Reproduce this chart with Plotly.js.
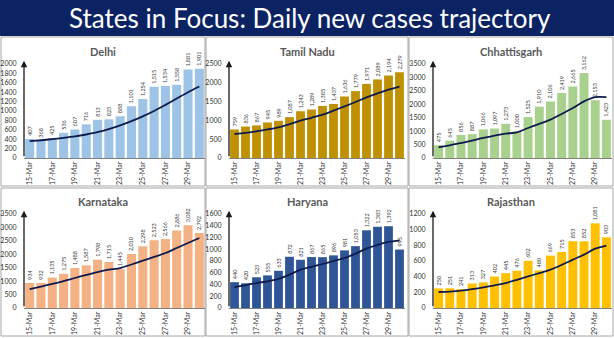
<!DOCTYPE html>
<html>
<head>
<meta charset="utf-8">
<script src="https://cdn.plot.ly/plotly-3.0.1.min.js"></script>
<style>html,body{margin:0;padding:0;background:#fff;}#chart{width:614px;height:338px;}</style>
</head>
<body>
<div id="chart"></div>
<script>
const chartTitle = 'States in Focus: Daily new cases trajectory';
const dates = ['15-Mar','16-Mar','17-Mar','18-Mar','19-Mar','20-Mar','21-Mar','22-Mar','23-Mar','24-Mar','25-Mar','26-Mar','27-Mar','28-Mar','29-Mar','30-Mar'];
const tickDates = ['15-Mar','17-Mar','19-Mar','21-Mar','23-Mar','25-Mar','27-Mar','29-Mar'];
const stateNames = ['Delhi','Tamil Nadu','Chhattisgarh','Karnataka','Haryana','Rajasthan'];

const delhiCases = [407,368,425,536,607,716,813,823,888,1101,1254,1515,1534,1558,1881,1901];
const tamilNaduCases = [759,836,867,945,989,1087,1243,1289,1385,1437,1636,1779,1971,2089,2194,2279];
const chhattisgarhCases = [475,645,856,887,1066,1097,1273,1000,1525,1910,2106,2419,2665,3162,2153,1423];
const karnatakaCases = [934,932,1135,1275,1488,1587,1798,1715,1445,2010,2298,2523,2566,2886,3082,2792];
const haryanaCases = [440,420,523,555,633,872,821,867,865,896,981,1053,1322,1383,1392,995];
const rajasthanCases = [250,251,241,313,327,402,445,476,602,480,669,715,853,852,1081,903];

const delhiTrend = [360,378,400,428,460,500,548,615,695,785,887,1000,1130,1265,1400,1520];
const tamilNaduTrend = [638,670,709,760,816,900,993,1070,1152,1260,1374,1490,1613,1720,1817,1900];
const chhattisgarhTrend = [400,470,558,650,745,830,906,955,1117,1270,1427,1640,1862,2110,2265,2265];
const karnatakaTrend = [707,800,894,1000,1117,1230,1340,1427,1489,1620,1762,1900,2048,2234,2420,2606];
const haryanaTrend = [357,390,425,455,494,567,652,700,749,800,851,925,1010,1075,1125,1146];
const rajasthanTrend = [204,210,221,240,264,290,319,360,404,445,489,550,617,681,757,796];

const delhiYTicks = [0,200,400,600,800,1000,1200,1400,1600,1800,2000];
const tamilNaduYTicks = [0,500,1000,1500,2000,2500];
const chhattisgarhYTicks = [0,500,1000,1500,2000,2500,3000,3500];
const karnatakaYTicks = [0,500,1000,1500,2000,2500,3000,3500];
const haryanaYTicks = [0,200,400,600,800,1000,1200,1400,1600];
const rajasthanYTicks = [0,200,400,600,800,1000,1200];

const casesList = [delhiCases, tamilNaduCases, chhattisgarhCases, karnatakaCases, haryanaCases, rajasthanCases];
const trendList = [delhiTrend, tamilNaduTrend, chhattisgarhTrend, karnatakaTrend, haryanaTrend, rajasthanTrend];
const ticksList = [delhiYTicks, tamilNaduYTicks, chhattisgarhYTicks, karnatakaYTicks, haryanaYTicks, rajasthanYTicks];
const barColors = ['#9DC3E6','#BF9000','#A9D18E','#F4B183','#2F5597','#FFC000'];

const W = 614, H = 338;
const colX = [[24,205],[229,405],[433,612]];
const rowY = [[64,158],[214,308]];
const titleX = [103,307,511];
const titleY = [51,201];
const boxX = [[1,205],[206,408],[409,613]];
const boxY = [[37,186],[188,336]];
const px = v => v / W;
const py = v => 1 - v / H;

const traces = [];
const layout = {
  width: W, height: H,
  margin: {l:0, r:0, t:0, b:0},
  paper_bgcolor: '#ffffff', plot_bgcolor: '#ffffff',
  showlegend: false,
  font: {family: 'Lato, sans-serif', color: '#404040'},
  annotations: [], shapes: []
};

layout.shapes.push({type:'rect', xref:'paper', yref:'paper', x0:0, x1:1, y0:py(36), y1:1, fillcolor:'#0b2263', line:{width:0}, layer:'below'});
layout.annotations.push({text: chartTitle, xref:'paper', yref:'paper', x:px(310), y:py(18), xanchor:'center', yanchor:'middle', showarrow:false, font:{family:'Lato, sans-serif', size:26, color:'#ffffff'}});

for (let i = 0; i < 6; i++) {
  const r = Math.floor(i / 3), c = i % 3;
  const n = i === 0 ? '' : String(i + 1);
  const ticks = ticksList[i];
  traces.push({
    type:'bar', x: dates, y: casesList[i], xaxis:'x'+n, yaxis:'y'+n,
    marker:{color: barColors[i]},
    texttemplate:'%{y:,}', textposition:'outside', textangle:-90,
    textfont:{size:5.5, color:'#404040', family:'Lato, sans-serif'},
    constraintext:'none', cliponaxis:false, hoverinfo:'skip'
  });
  traces.push({
    type:'scatter', mode:'lines', x: dates, y: trendList[i], xaxis:'x'+n, yaxis:'y'+n,
    line:{color:'#0f1b4d', width:1.8, shape:'spline', smoothing:0.8}, hoverinfo:'skip'
  });
  layout['xaxis'+n] = {
    domain:[px(colX[c][0]), px(colX[c][1])], anchor:'y'+n,
    type:'category', tickvals: tickDates, ticktext: tickDates, tickangle:-90,
    tickfont:{size:7, color:'#303030'}, showgrid:false, zeroline:false,
    showline:true, linecolor:'#808080', linewidth:1, ticks:'', fixedrange:true
  };
  layout['yaxis'+n] = {
    domain:[py(rowY[r][1]), py(rowY[r][0])], anchor:'x'+n,
    range:[0, ticks[ticks.length-1]], tickvals: ticks, tickformat:'d',
    tickfont:{size:7, color:'#303030'}, showgrid:false, zeroline:false, showline:false,
    ticks:'outside', ticklen:5, tickcolor:'rgba(0,0,0,0)', fixedrange:true
  };
  layout.annotations.push({text: stateNames[i], xref:'paper', yref:'paper', x:px(titleX[c]), y:py(titleY[r]), xanchor:'center', yanchor:'middle', showarrow:false, font:{family:'Lato, sans-serif', size:11, color:'#595959', weight:'bold'}});
  layout.annotations.push({text:'', xref:'x'+n+' domain', yref:'y'+n+' domain', x:0, y:1.035, ax:0, ay:97, showarrow:true, arrowhead:2, arrowsize:1, arrowwidth:1.3, arrowcolor:'#1a1a1a'});
  layout.shapes.push({type:'rect', xref:'paper', yref:'paper', x0:px(boxX[c][0]), x1:px(boxX[c][1]), y0:py(boxY[r][1]), y1:py(boxY[r][0]), line:{color:'#a6a6a6', width:1}, fillcolor:'rgba(0,0,0,0)', layer:'below'});
}

Plotly.newPlot('chart', traces, layout, {staticPlot:true, displayModeBar:false});
</script>
</body>
</html>
